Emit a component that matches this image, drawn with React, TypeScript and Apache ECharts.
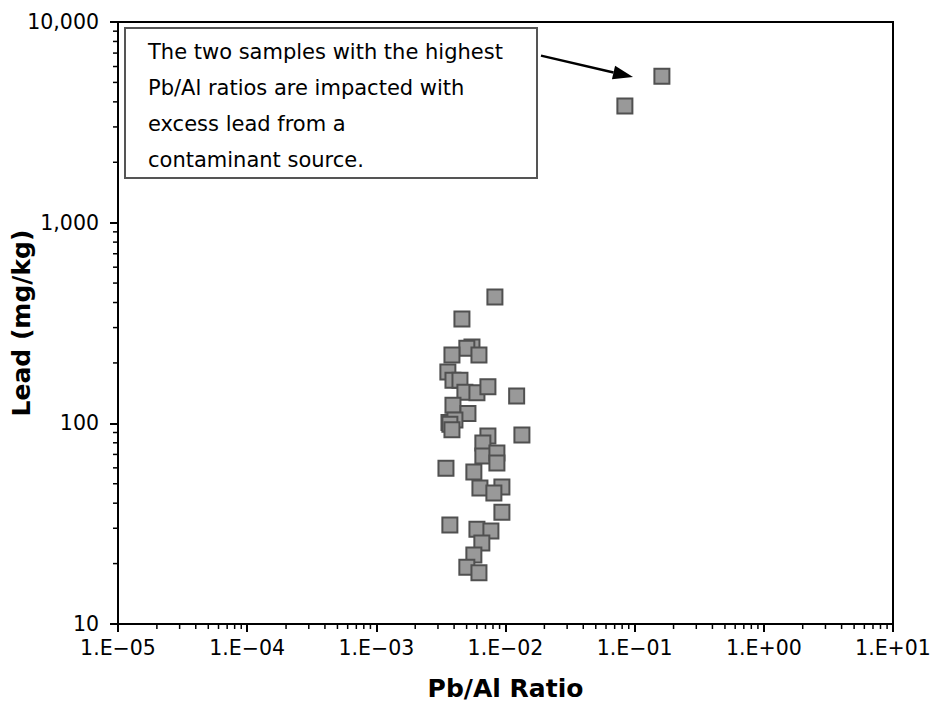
import React, { useEffect, useRef } from "react";
import * as echarts from "echarts";

// Pb/Al ratio (x) and lead concentration in mg/kg (y) for each sample
const pbAlRatio = [
  8.28e-3, 4.6e-3, 5.5e-3, 5.02e-3, 6.23e-3, 3.85e-3, 3.58e-3, 3.92e-3, 4.44e-3, 4.85e-3,
  6.01e-3, 7.31e-3, 1.22e-2, 3.92e-3, 5.12e-3, 3.65e-3, 4.06e-3, 3.71e-3, 3.85e-3, 7.31e-3,
  1.34e-2, 6.68e-3, 6.68e-3, 8.58e-3, 8.58e-3, 3.46e-3, 5.69e-3, 6.34e-3, 9.38e-3, 8.13e-3,
  9.38e-3, 3.71e-3, 6.01e-3, 7.71e-3, 6.56e-3, 5.69e-3, 5.02e-3, 6.23e-3, 8.4e-2, 0.1625,
];
const leadMgKg = [
  426, 331, 240, 237, 219, 219, 180, 164, 164, 143,
  142, 152, 137, 123, 112, 101, 104, 99, 93, 86.4,
  87.4, 79.8, 68.7, 71.1, 63.4, 59.8, 57.2, 47.6, 48.2, 45.0,
  36.1, 31.1, 29.7, 29.1, 25.3, 22.1, 19.2, 18.0, 3810, 5370,
];

const xTickExponents = [-5, -4, -3, -2, -1, 0, 1];
const xTickLabels = ["1.E\u221205", "1.E\u221204", "1.E\u221203", "1.E\u221202", "1.E\u221201", "1.E+00", "1.E+01"];
const yTickExponents = [1, 2, 3, 4];
const yTickLabels = ["10", "100", "1,000", "10,000"];
const minorMantissas = [2, 3, 4, 5, 6, 7, 8, 9];

const annotationLines = [
  "The two samples with the highest",
  "Pb/Al ratios are impacted with",
  "excess lead from a",
  "contaminant source.",
];

const FONT = "DejaVu Sans";

export default function App() {
  const ref = useRef<HTMLDivElement>(null);

  useEffect(() => {
    if (!ref.current) return;
    const chart = echarts.init(ref.current, null, { renderer: "svg" });

    const points = pbAlRatio.map((x, i) => [x, leadMgKg[i]]);
    const xMin = 1e-5;
    const yMin = 10;

    const xMinor: number[][] = [];
    xTickExponents.slice(0, -1).forEach((e) =>
      minorMantissas.forEach((m) => xMinor.push([m * Math.pow(10, e), yMin]))
    );
    const yMinor: number[][] = [];
    yTickExponents.slice(0, -1).forEach((e) =>
      minorMantissas.forEach((m) => yMinor.push([xMin, m * Math.pow(10, e)]))
    );

    const labelFor = (exps: number[], labels: string[]) => (v: number) => {
      const e = Math.round(Math.log10(v));
      const i = exps.indexOf(e);
      return i >= 0 ? labels[i] : "";
    };

    // arrow
    const sx = 541, sy = 55.6, tx = 633, ty = 77;
    const dx = tx - sx, dy = ty - sy;
    const len = Math.sqrt(dx * dx + dy * dy);
    const ux = dx / len, uy = dy / len;
    const hl = 20, hw = 7;
    const bx = tx - hl * ux, by = ty - hl * uy;

    chart.setOption({
      animation: false,
      backgroundColor: "#ffffff",
      grid: {
        left: 118,
        right: 39,
        top: 22,
        bottom: 79,
        containLabel: false,
        outerBoundsMode: "none",
        show: true,
        borderColor: "#000",
        borderWidth: 2,
      },
      xAxis: {
        type: "log",
        logBase: 10,
        min: 1e-5,
        max: 10,
        name: "Pb/Al Ratio",
        nameLocation: "middle",
        nameGap: 52,
        nameTextStyle: { fontFamily: FONT, fontSize: 25, fontWeight: "bold", color: "#000" },
        axisLine: { show: true, lineStyle: { color: "#000", width: 2 } },
        axisTick: { show: true, inside: false, length: 8, lineStyle: { color: "#000", width: 2 } },
        axisLabel: {
          fontFamily: FONT,
          fontSize: 20.5,
          color: "#000",
          margin: 13,
          formatter: labelFor(xTickExponents, xTickLabels),
        },
        splitLine: { show: false },
      },
      yAxis: {
        type: "log",
        logBase: 10,
        min: 10,
        max: 10000,
        name: "Lead (mg/kg)",
        nameLocation: "middle",
        nameGap: 84,
        nameMoveOverlap: false,
        nameTextStyle: { fontFamily: FONT, fontSize: 25, fontWeight: "bold", color: "#000" },
        axisLine: { show: true, lineStyle: { color: "#000", width: 2 } },
        axisTick: { show: true, inside: false, length: 8, lineStyle: { color: "#000", width: 2 } },
        axisLabel: {
          fontFamily: FONT,
          fontSize: 20.5,
          color: "#000",
          margin: 19,
          formatter: labelFor(yTickExponents, yTickLabels),
        },
        splitLine: { show: false },
      },
      series: [
        {
          type: "custom",
          silent: true,
          clip: false,
          data: xMinor,
          renderItem: (params: any, api: any) => {
            const p = api.coord([api.value(0), api.value(1)]);
            return {
              type: "line",
              shape: { x1: p[0], y1: p[1], x2: p[0], y2: p[1] + 5 },
              style: { stroke: "#000", lineWidth: 1.5 },
            };
          },
          z: 1,
        },
        {
          type: "custom",
          silent: true,
          clip: false,
          data: yMinor,
          renderItem: (params: any, api: any) => {
            const p = api.coord([api.value(0), api.value(1)]);
            return {
              type: "line",
              shape: { x1: p[0] - 5, y1: p[1], x2: p[0], y2: p[1] },
              style: { stroke: "#000", lineWidth: 1.5 },
            };
          },
          z: 1,
        },
        {
          type: "scatter",
          data: points,
          symbol: "rect",
          symbolSize: 15,
          itemStyle: { color: "#999999", borderColor: "#505050", borderWidth: 2, opacity: 1 },
          z: 3,
        },
      ],
      graphic: [
        {
          type: "rect",
          shape: { x: 125, y: 28, width: 412, height: 150 },
          style: { fill: "#ffffff", stroke: "#555555", lineWidth: 2 },
          z: 10,
        },
        {
          type: "text",
          x: 148,
          y: 34,
          style: {
            text: annotationLines.join("\n"),
            fontFamily: FONT,
            fontSize: 21,
            lineHeight: 36,
            fill: "#000",
          },
          z: 11,
        },
        {
          type: "line",
          shape: { x1: sx, y1: sy, x2: bx, y2: by },
          style: { stroke: "#000", lineWidth: 2.5 },
          z: 10,
        },
        {
          type: "polygon",
          shape: {
            points: [
              [tx, ty],
              [bx - hw * -uy, by - hw * ux],
              [bx + hw * -uy, by + hw * ux],
            ],
          },
          style: { fill: "#000" },
          z: 10,
        },
      ],
    });

    return () => chart.dispose();
  }, []);

  return <div ref={ref} style={{ width: 932, height: 703, position: "absolute", left: 0, top: 0 }} />;
}
